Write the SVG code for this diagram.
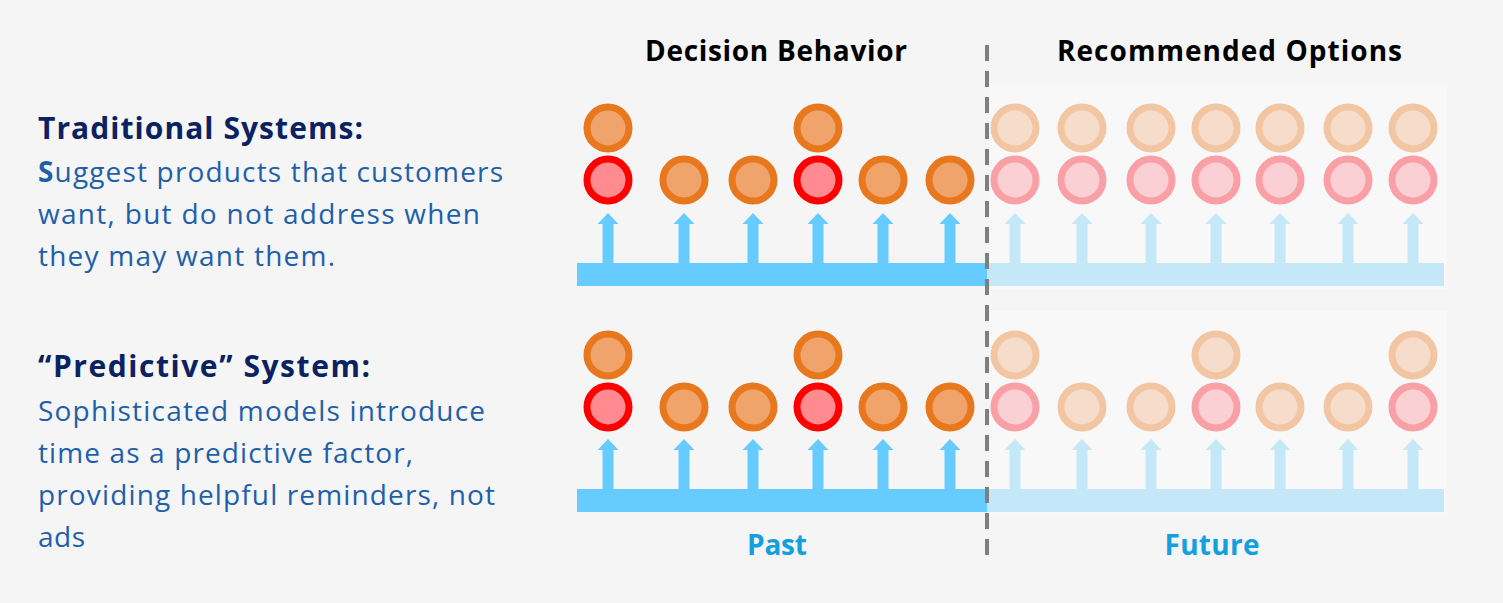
<svg xmlns="http://www.w3.org/2000/svg" xmlns:xlink="http://www.w3.org/1999/xlink" width="1503" height="603" viewBox="0 0 1503 603">
<style>
.hdr{font-family:"Open Sans","Liberation Sans",sans-serif;font-weight:700;font-size:28px;fill:#000}
.ttl{font-family:"Open Sans","Liberation Sans",sans-serif;font-weight:700;font-size:30px;fill:#0B2262}
.body{font-family:"Open Sans","Liberation Sans",sans-serif;font-size:28px;fill:#1F5FAA}
.lbl{font-family:"Open Sans","Liberation Sans",sans-serif;font-weight:700;font-size:28px;fill:#14A0E0;text-anchor:middle}
.o{fill:#F0A46C;stroke:#E8781E;stroke-width:7}
.r{fill:#FF8A8F;stroke:#FF0000;stroke-width:7}
.fo{fill:#F6DCCA;stroke:#F3C6A3;stroke-width:7}
.fr{fill:#FAD0D4;stroke:#F9A0A6;stroke-width:7}
.bar{fill:#66CCFF}
.lbar{fill:#C4E8F8}
.arr{fill:#66CCFF}
.larr{fill:#C4E8F8}
</style>
<defs>
<path id="a" d="M-5.5 50 V11 H-10.5 L0 0 L10.5 11 H5.5 V50 Z"/>
</defs>
<rect width="1503" height="603" fill="#F5F5F5"/>
<rect x="990" y="85" width="457" height="204" fill="#F8F8F8"/>
<rect x="990" y="311" width="457" height="204" fill="#F8F8F8"/>

<g id="headers">
<text class="hdr" x="645" y="61" textLength="262">Decision Behavior</text>
<text class="hdr" x="1057" y="61" textLength="345">Recommended Options</text>
</g>

<g id="traditional-text">
<text class="ttl" x="38" y="139" textLength="325">Traditional Systems:</text>
<text class="body" x="38" y="182" textLength="465"><tspan font-weight="700">S</tspan>uggest products that customers</text>
<text class="body" x="38" y="224" textLength="442">want, but do not address when</text>
<text class="body" x="38" y="266" textLength="297">they may want them.</text>
</g>

<g id="predictive-text">
<text class="ttl" x="38" y="377" textLength="332">“Predictive” System:</text>
<text class="body" x="38" y="421" textLength="447">Sophisticated models introduce</text>
<text class="body" x="38" y="463" textLength="375">time as a predictive factor,</text>
<text class="body" x="38" y="505" textLength="457">providing helpful reminders, not</text>
<text class="body" x="38" y="547" textLength="47">ads</text>
</g>

<g id="traditional-timeline">
<rect class="bar" x="577" y="263" width="410" height="23"/>
<rect class="lbar" x="987" y="263" width="457" height="23"/>
<use href="#a" class="arr" x="608" y="213"/>
<use href="#a" class="arr" x="684" y="213"/>
<use href="#a" class="arr" x="753" y="213"/>
<use href="#a" class="arr" x="818" y="213"/>
<use href="#a" class="arr" x="883" y="213"/>
<use href="#a" class="arr" x="950" y="213"/>
<use href="#a" class="larr" x="1015" y="213"/>
<use href="#a" class="larr" x="1082" y="213"/>
<use href="#a" class="larr" x="1151" y="213"/>
<use href="#a" class="larr" x="1216" y="213"/>
<use href="#a" class="larr" x="1280" y="213"/>
<use href="#a" class="larr" x="1348" y="213"/>
<use href="#a" class="larr" x="1413" y="213"/>
<circle class="o" cx="608" cy="128" r="21"/>
<circle class="o" cx="818" cy="128" r="21"/>
<circle class="r" cx="608" cy="180" r="21"/>
<circle class="o" cx="684" cy="180" r="21"/>
<circle class="o" cx="753" cy="180" r="21"/>
<circle class="r" cx="818" cy="180" r="21"/>
<circle class="o" cx="883" cy="180" r="21"/>
<circle class="o" cx="950" cy="180" r="21"/>
<circle class="fo" cx="1015" cy="128" r="21"/>
<circle class="fo" cx="1082" cy="128" r="21"/>
<circle class="fo" cx="1151" cy="128" r="21"/>
<circle class="fo" cx="1216" cy="128" r="21"/>
<circle class="fo" cx="1280" cy="128" r="21"/>
<circle class="fo" cx="1348" cy="128" r="21"/>
<circle class="fo" cx="1413" cy="128" r="21"/>
<circle class="fr" cx="1015" cy="180" r="21"/>
<circle class="fr" cx="1082" cy="180" r="21"/>
<circle class="fr" cx="1151" cy="180" r="21"/>
<circle class="fr" cx="1216" cy="180" r="21"/>
<circle class="fr" cx="1280" cy="180" r="21"/>
<circle class="fr" cx="1348" cy="180" r="21"/>
<circle class="fr" cx="1413" cy="180" r="21"/>
</g>

<g id="predictive-timeline">
<rect class="bar" x="577" y="489" width="410" height="23"/>
<rect class="lbar" x="987" y="489" width="457" height="23"/>
<use href="#a" class="arr" x="608" y="439"/>
<use href="#a" class="arr" x="684" y="439"/>
<use href="#a" class="arr" x="753" y="439"/>
<use href="#a" class="arr" x="818" y="439"/>
<use href="#a" class="arr" x="883" y="439"/>
<use href="#a" class="arr" x="950" y="439"/>
<use href="#a" class="larr" x="1015" y="439"/>
<use href="#a" class="larr" x="1082" y="439"/>
<use href="#a" class="larr" x="1151" y="439"/>
<use href="#a" class="larr" x="1216" y="439"/>
<use href="#a" class="larr" x="1280" y="439"/>
<use href="#a" class="larr" x="1348" y="439"/>
<use href="#a" class="larr" x="1413" y="439"/>
<circle class="o" cx="608" cy="355" r="21"/>
<circle class="o" cx="818" cy="355" r="21"/>
<circle class="r" cx="608" cy="407" r="21"/>
<circle class="o" cx="684" cy="407" r="21"/>
<circle class="o" cx="753" cy="407" r="21"/>
<circle class="r" cx="818" cy="407" r="21"/>
<circle class="o" cx="883" cy="407" r="21"/>
<circle class="o" cx="950" cy="407" r="21"/>
<circle class="fo" cx="1015" cy="355" r="21"/>
<circle class="fo" cx="1216" cy="355" r="21"/>
<circle class="fo" cx="1413" cy="355" r="21"/>
<circle class="fr" cx="1015" cy="407" r="21"/>
<circle class="fo" cx="1082" cy="407" r="21"/>
<circle class="fo" cx="1151" cy="407" r="21"/>
<circle class="fr" cx="1216" cy="407" r="21"/>
<circle class="fo" cx="1280" cy="407" r="21"/>
<circle class="fo" cx="1348" cy="407" r="21"/>
<circle class="fr" cx="1413" cy="407" r="21"/>
</g>

<g id="divider">
<line x1="987" y1="45" x2="987" y2="558" stroke="#7F7F7F" stroke-width="4" stroke-dasharray="16 10"/>
</g>

<g id="labels">
<text class="lbl" x="777" y="555" textLength="60">Past</text>
<text class="lbl" x="1212" y="555" textLength="95">Future</text>
</g>
</svg>
